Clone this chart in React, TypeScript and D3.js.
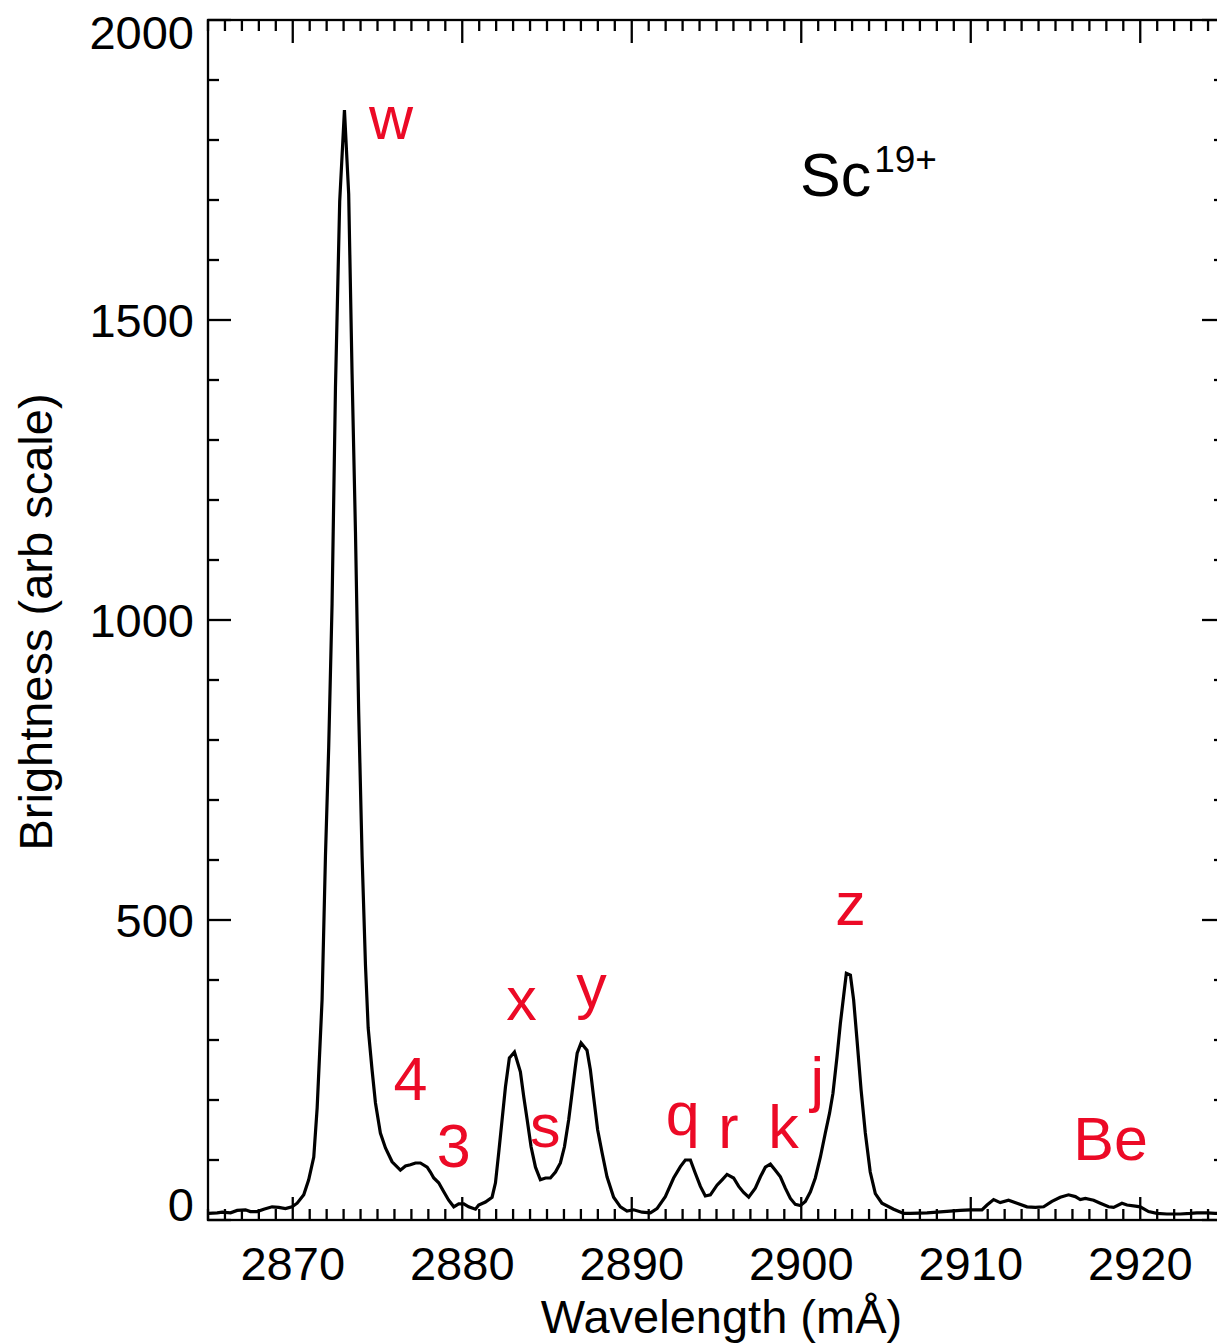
import React from "react";
import * as d3 from "d3";

const wavelength = [
  2865.03, 2865.54, 2865.84, 2866.33, 2866.72, 2867.21, 2867.5, 2867.9, 2868.29, 2868.78,
  2869.17, 2869.57, 2869.96, 2870.26, 2870.65, 2870.94, 2871.24, 2871.44, 2871.73, 2871.93,
  2872.12, 2872.32, 2872.52, 2872.77, 2873.05, 2873.3, 2873.5, 2873.7, 2873.89, 2874.09,
  2874.29, 2874.45, 2874.68, 2874.88, 2875.17, 2875.47, 2875.86, 2876.35, 2876.65, 2876.94,
  2877.24, 2877.53, 2877.93, 2878.12, 2878.32, 2878.61, 2878.91, 2879.2, 2879.5, 2879.79,
  2880.09, 2880.38, 2880.78, 2880.97, 2881.37, 2881.76, 2881.96, 2882.15, 2882.35, 2882.55,
  2882.78, 2883.08, 2883.43, 2883.63, 2883.83, 2884.06, 2884.32, 2884.61, 2884.91, 2885.2,
  2885.5, 2885.79, 2886.03, 2886.28, 2886.48, 2886.67, 2886.78, 2887.01, 2887.36, 2887.56,
  2887.75, 2887.99, 2888.25, 2888.54, 2888.93, 2889.33, 2889.72, 2890.11, 2890.61, 2891.1,
  2891.49, 2891.98, 2892.47, 2892.87, 2893.16, 2893.46, 2893.75, 2894.05, 2894.34, 2894.64,
  2895.03, 2895.33, 2895.62, 2896.01, 2896.31, 2896.6, 2896.9, 2897.29, 2897.59, 2897.88,
  2898.18, 2898.47, 2898.77, 2899.06, 2899.36, 2899.65, 2899.95, 2900.24, 2900.54, 2900.83,
  2901.13, 2901.42, 2901.67, 2901.87, 2902.11, 2902.31, 2902.54, 2902.66, 2902.9, 2903.09,
  2903.29, 2903.53, 2903.78, 2904.07, 2904.37, 2904.76, 2905.45, 2906.04, 2906.43, 2907.42,
  2908.4, 2909.38, 2909.97, 2910.66, 2910.96, 2911.35, 2911.74, 2912.23, 2912.73, 2913.32,
  2913.81, 2914.3, 2914.79, 2915.28, 2915.77, 2916.17, 2916.46, 2916.76, 2917.25, 2917.64,
  2918.13, 2918.43, 2918.92, 2919.22, 2919.71, 2920.0, 2920.49, 2920.98, 2921.57, 2922.36,
  2922.95, 2923.34, 2923.93, 2924.42, 2925.0,
];

const brightness = [
  11, 12, 13, 12, 16, 17, 14, 14, 18, 22,
  21, 19, 22, 28, 42, 67, 105, 187, 367, 607,
  787, 1027, 1387, 1698, 1850, 1710, 1410, 1147, 847, 607,
  425, 320, 250, 195, 145, 120, 97, 83, 90, 92,
  95, 95, 88, 80, 70, 62, 47, 33, 22, 27,
  27, 22, 18, 25, 30, 38, 62, 112, 167, 222,
  270, 280, 247, 205, 167, 122, 88, 67, 70, 70,
  80, 95, 122, 167, 212, 255, 278, 295, 283, 250,
  205, 150, 112, 72, 38, 22, 15, 17, 13, 12,
  19, 39, 70, 89, 100, 100, 78, 56, 40, 42,
  58, 67, 76, 70, 56, 46, 38, 53, 72, 88,
  93, 83, 72, 53, 36, 26, 24, 31, 47, 70,
  105, 145, 178, 211, 272, 328, 383, 411, 408, 367,
  300, 217, 145, 80, 44, 28, 18, 11, 11, 12,
  14, 16, 17, 17, 25, 34, 29, 33, 28, 22,
  21, 22, 31, 38, 42, 39, 34, 36, 33, 28,
  22, 21, 28, 25, 23, 22, 14, 11, 10, 10,
  11, 12, 12, 11, 11,
];

const lineLabels = ["w", "4", "3", "x", "y", "s", "q", "r", "k", "j", "z", "Be"];
const lineLabelWavelength = [2874.5, 2875.95, 2878.5, 2882.6, 2886.72, 2884.0, 2892.0, 2895.1, 2898.05, 2900.55, 2902.0, 2916.05];
const lineLabelBrightness = [1802, 200, 88, 333, 355, 122, 142, 120, 120, 200, 492, 100];

const xMajorTicks = [2870, 2880, 2890, 2900, 2910, 2920];
const yMajorTicks = [0, 500, 1000, 1500, 2000];

const W = 1217;
const H = 1344;
const left = 208;
const right = 1225;
const top = 20;
const bottom = 1220;
const FONT = "'Liberation Sans', Arial, Helvetica, sans-serif";
const RED = "#ec0a26";

export default function App() {
  const x = d3.scaleLinear().domain([2865, 2925]).range([left, right]);
  const y = d3.scaleLinear().domain([0, 2000]).range([bottom, top]);

  const pts: [number, number][] = wavelength.map((w, i) => [w, brightness[i]]);
  const path = d3
    .line<[number, number]>()
    .x((d) => x(d[0]))
    .y((d) => y(d[1]))(pts) as string;

  const xMinor = d3.range(2865, 2926, 1);
  const yMinor = d3.range(0, 2001, 100);
  const minorLen = 11;
  const majorLen = 23;

  return (
    <svg
      width={W}
      height={H}
      style={{ position: "absolute", left: 0, top: 0, background: "#fff" }}
      fontFamily={FONT}
    >
      <rect x={0} y={0} width={W} height={H} fill="#fff" />
      <g stroke="#000" strokeWidth={2.3} fill="none">
        <rect x={left} y={top} width={right - left} height={bottom - top} />
        {xMinor.map((v) => {
          const len = xMajorTicks.includes(v) ? majorLen : minorLen;
          return (
            <g key={"xt" + v}>
              <line x1={x(v)} x2={x(v)} y1={bottom} y2={bottom - len} />
              <line x1={x(v)} x2={x(v)} y1={top} y2={top + len} />
            </g>
          );
        })}
        {yMinor.map((v) => {
          const len = yMajorTicks.includes(v) ? majorLen : minorLen;
          return (
            <g key={"yt" + v}>
              <line x1={left} x2={left + len} y1={y(v)} y2={y(v)} />
              <line x1={right} x2={right - len} y1={y(v)} y2={y(v)} />
            </g>
          );
        })}
      </g>
      <path d={path} fill="none" stroke="#000" strokeWidth={3.2} strokeLinejoin="miter" />
      <g fontSize={47} fill="#000">
        {xMajorTicks.map((v) => (
          <text key={"xl" + v} x={x(v)} y={1280} textAnchor="middle">
            {v}
          </text>
        ))}
        {yMajorTicks.map((v) => {
          const shift = v === 0 ? -16 : v === 2000 ? 12 : 0;
          return (
            <text key={"yl" + v} x={194} y={y(v) + shift + 17} textAnchor="end">
              {v}
            </text>
          );
        })}
      </g>
      <text x={(left + right) / 2 + 5} y={1333} textAnchor="middle" fontSize={47}>
        Wavelength (mÅ)
      </text>
      <text
        transform={`translate(52, ${(top + bottom) / 2 + 2}) rotate(-90)`}
        textAnchor="middle"
        fontSize={47}
      >
        Brightness (arb scale)
      </text>
      <text x={800} y={196} fontSize={61}>
        Sc
        <tspan fontSize={37} dx={3} dy={-24}>
          19+
        </tspan>
      </text>
      <g fill={RED} fontSize={61}>
        {lineLabels.map((t, i) => (
          <text key={"ll" + i} x={x(lineLabelWavelength[i])} y={y(lineLabelBrightness[i])}>
            {t}
          </text>
        ))}
      </g>
    </svg>
  );
}
